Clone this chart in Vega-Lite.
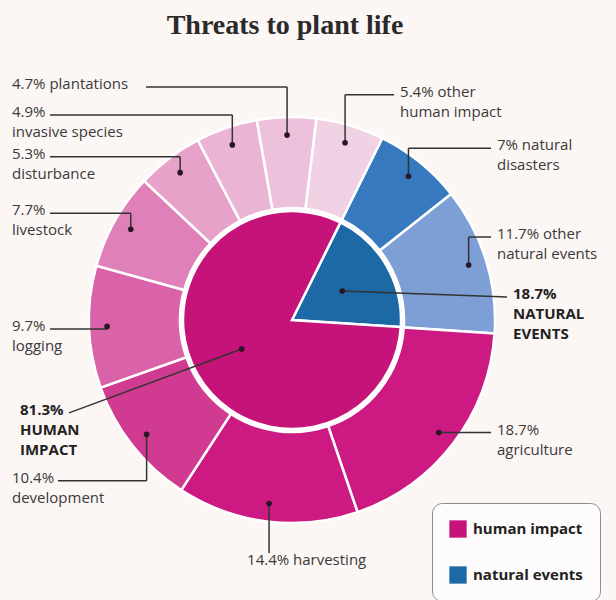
{
  "$schema": "https://vega.github.io/schema/vega-lite/v6.json",
  "width": 616,
  "height": 555,
  "autosize": "none",
  "padding": {"top": 45, "left": 0, "right": 0, "bottom": 0},
  "background": "#fcf6f5",
  "title": {
    "text": "Threats to plant life",
    "anchor": "middle",
    "dx": -23,
    "offset": 5,
    "font": "Liberation Serif",
    "fontSize": 28,
    "fontWeight": "bold",
    "color": "#2a2a2a"
  },
  "config": {
    "view": {"stroke": null},
    "axis": {"disable": true}
  },
  "datasets": {
    "outer": [
      {"name": "natural disasters", "value": 7, "label": ["7% natural", "disasters"]},
      {"name": "other natural events", "value": 11.7, "label": ["11.7% other", "natural events"]},
      {"name": "agriculture", "value": 18.7, "label": ["18.7%", "agriculture"]},
      {"name": "harvesting", "value": 14.4, "label": ["14.4% harvesting"]},
      {"name": "development", "value": 10.4, "label": ["10.4%", "development"]},
      {"name": "logging", "value": 9.7, "label": ["9.7%", "logging"]},
      {"name": "livestock", "value": 7.7, "label": ["7.7%", "livestock"]},
      {"name": "disturbance", "value": 5.3, "label": ["5.3%", "disturbance"]},
      {"name": "invasive species", "value": 4.9, "label": ["4.9%", "invasive species"]},
      {"name": "plantations", "value": 4.7, "label": ["4.7% plantations"]},
      {"name": "other human impact", "value": 5.4, "label": ["5.4% other", "human impact"]}
    ],
    "inner": [
      {"group": "natural events", "value": 18.7, "label": ["18.7%", "NATURAL", "EVENTS"]},
      {"group": "human impact", "value": 81.3, "label": ["81.3%", "HUMAN", "IMPACT"]}
    ]
  },
  "resolve": {"scale": {"color": "independent", "theta": "independent"}},
  "layer": [
    {
      "data": {"name": "outer"},
      "transform": [
        {"window": [{"op": "sum", "field": "value", "as": "cum"}, {"op": "row_number", "as": "i"}], "frame": [null, 0]},
        {"joinaggregate": [{"op": "sum", "field": "value", "as": "total"}]},
        {"calculate": "0.4608 + 2*PI*(datum.cum - datum.value/2)/datum.total", "as": "ang"},
        {"calculate": "185*sin(datum.ang)", "as": "dx"},
        {"calculate": "185*cos(datum.ang)", "as": "dy"},
        {"calculate": "cos(datum.ang) < -0.9 ? 'bottom' : (sin(datum.ang) < 0 ? 'left' : 'right')", "as": "side"},
        {"calculate": "datum.dy + (cos(datum.ang) > 0.95 ? 48 : (cos(datum.ang) > 0 ? (sin(datum.ang) < 0 ? 16 + 145*max(0, cos(datum.ang) - 0.85) : 28) : (sin(datum.ang) < 0 ? (cos(datum.ang) < -0.9 ? 60*cos(datum.ang) : 75*cos(datum.ang)) : 0)))", "as": "ly"},
        {"calculate": "datum.side == 'bottom' ? datum.dx - 22 : (datum.side == 'left' ? -280 : (cos(datum.ang) > 0.95 ? datum.dx + 55 : 205))", "as": "lx"},
        {"calculate": "datum.side == 'left' ? datum.lx + length(datum.label[0])*8 + 6 : datum.dx", "as": "hx1"},
        {"calculate": "datum.side == 'left' ? datum.dx : (datum.side == 'bottom' ? datum.dx : datum.lx - 6)", "as": "hx2"},
        {"calculate": "datum.side == 'bottom' ? datum.ly + 10 : datum.ly", "as": "vy2"}
      ],
      "layer": [
        {
          "mark": {"type": "arc", "radius": 203, "radius2": 112, "stroke": "white", "strokeWidth": 2.5},
          "encoding": {
            "x": {"datum": 0, "type": "quantitative", "scale": {"domain": [-292, 324], "nice": false, "zero": false}, "axis": null},
            "y": {"datum": 0, "type": "quantitative", "scale": {"domain": [-280, 275], "nice": false, "zero": false}, "axis": null},
            "theta": {"field": "value", "type": "quantitative", "stack": true, "scale": {"range": [0.4608, 6.7440]}},
            "order": {"field": "i", "type": "quantitative"},
            "color": {
              "field": "name", "type": "nominal", "legend": null,
              "scale": {
                "domain": ["natural disasters", "other natural events", "agriculture", "harvesting", "development", "logging", "livestock", "disturbance", "invasive species", "plantations", "other human impact"],
                "range": ["#3779be", "#7d9fd5", "#cc1a82", "#cc1a82", "#d03a90", "#da62a9", "#df80b9", "#e6a2c9", "#eab4d4", "#edc1db", "#f1d2e4"]
              }
            }
          }
        },
        {
          "mark": {"type": "rule", "color": "#333333", "strokeWidth": 1.5},
          "encoding": {
            "x": {"field": "dx", "type": "quantitative"},
            "y": {"field": "dy", "type": "quantitative"},
            "y2": {"field": "vy2"}
          }
        },
        {
          "mark": {"type": "rule", "color": "#333333", "strokeWidth": 1.5},
          "encoding": {
            "x": {"field": "hx1", "type": "quantitative"},
            "x2": {"field": "hx2"},
            "y": {"field": "ly", "type": "quantitative"}
          }
        },
        {
          "mark": {"type": "point", "filled": true, "size": 32, "color": "#2b1626", "opacity": 1},
          "encoding": {
            "x": {"field": "dx", "type": "quantitative"},
            "y": {"field": "dy", "type": "quantitative"}
          }
        },
        {
          "mark": {"type": "text", "align": "left", "baseline": "top", "dy": -10, "font": "Open Sans", "fontSize": 15, "lineHeight": 20, "color": "#3a3a3a"},
          "encoding": {
            "x": {"field": "lx", "type": "quantitative"},
            "y": {"field": "ly", "type": "quantitative"},
            "text": {"field": "label"}
          }
        }
      ]
    },
    {
      "data": {"name": "inner"},
      "transform": [
        {"window": [{"op": "sum", "field": "value", "as": "cum"}, {"op": "row_number", "as": "i"}], "frame": [null, 0]},
        {"joinaggregate": [{"op": "sum", "field": "value", "as": "total"}]},
        {"calculate": "0.4608 + 2*PI*(datum.cum - datum.value/2)/datum.total", "as": "ang"},
        {"calculate": "58*sin(datum.ang)", "as": "dx"},
        {"calculate": "58*cos(datum.ang)", "as": "dy"},
        {"calculate": "116*cos(datum.ang) - 35", "as": "ly"},
        {"calculate": "sin(datum.ang) < 0 ? -272 : 221", "as": "lx"},
        {"calculate": "sin(datum.ang) < 0 ? datum.lx + length(datum.label[0])*9 + 4 : datum.lx - 6", "as": "ex"}
      ],
      "layer": [
        {
          "mark": {"type": "arc", "radius": 109, "stroke": "white", "strokeWidth": 2.5},
          "encoding": {
            "x": {"datum": 0, "type": "quantitative"},
            "y": {"datum": 0, "type": "quantitative"},
            "theta": {"field": "value", "type": "quantitative", "stack": true, "scale": {"range": [0.4608, 6.7440]}},
            "order": {"field": "i", "type": "quantitative"},
            "color": {
              "field": "group", "type": "nominal",
              "scale": {"domain": ["human impact", "natural events"], "range": ["#c6137a", "#1d69a6"]},
              "legend": {
                "title": null, "orient": "none", "legendX": 432, "legendY": 458, "direction": "vertical",
                "symbolType": "square", "symbolSize": 300, "symbolStrokeWidth": 0, "symbolOpacity": 1,
                "labelFont": "Open Sans", "labelFontSize": 15, "labelFontWeight": "bold", "labelColor": "#222222",
                "labelOffset": 6, "rowPadding": 28, "padding": 17,
                "strokeColor": "#8c8c8c", "fillColor": "#fdfbfb", "cornerRadius": 10
              }
            }
          }
        },
        {
          "mark": {"type": "rule", "color": "#333333", "strokeWidth": 1.5},
          "encoding": {
            "x": {"field": "dx", "type": "quantitative"},
            "y": {"field": "dy", "type": "quantitative"},
            "x2": {"field": "ex"},
            "y2": {"field": "ly"}
          }
        },
        {
          "mark": {"type": "point", "filled": true, "size": 32, "color": "#2b1626", "opacity": 1},
          "encoding": {
            "x": {"field": "dx", "type": "quantitative"},
            "y": {"field": "dy", "type": "quantitative"}
          }
        },
        {
          "mark": {"type": "text", "align": "left", "baseline": "top", "dy": -10, "font": "Open Sans", "fontSize": 15, "fontWeight": "bold", "lineHeight": 20, "color": "#222222"},
          "encoding": {
            "x": {"field": "lx", "type": "quantitative"},
            "y": {"field": "ly", "type": "quantitative"},
            "text": {"field": "label"}
          }
        }
      ]
    }
  ]
}
